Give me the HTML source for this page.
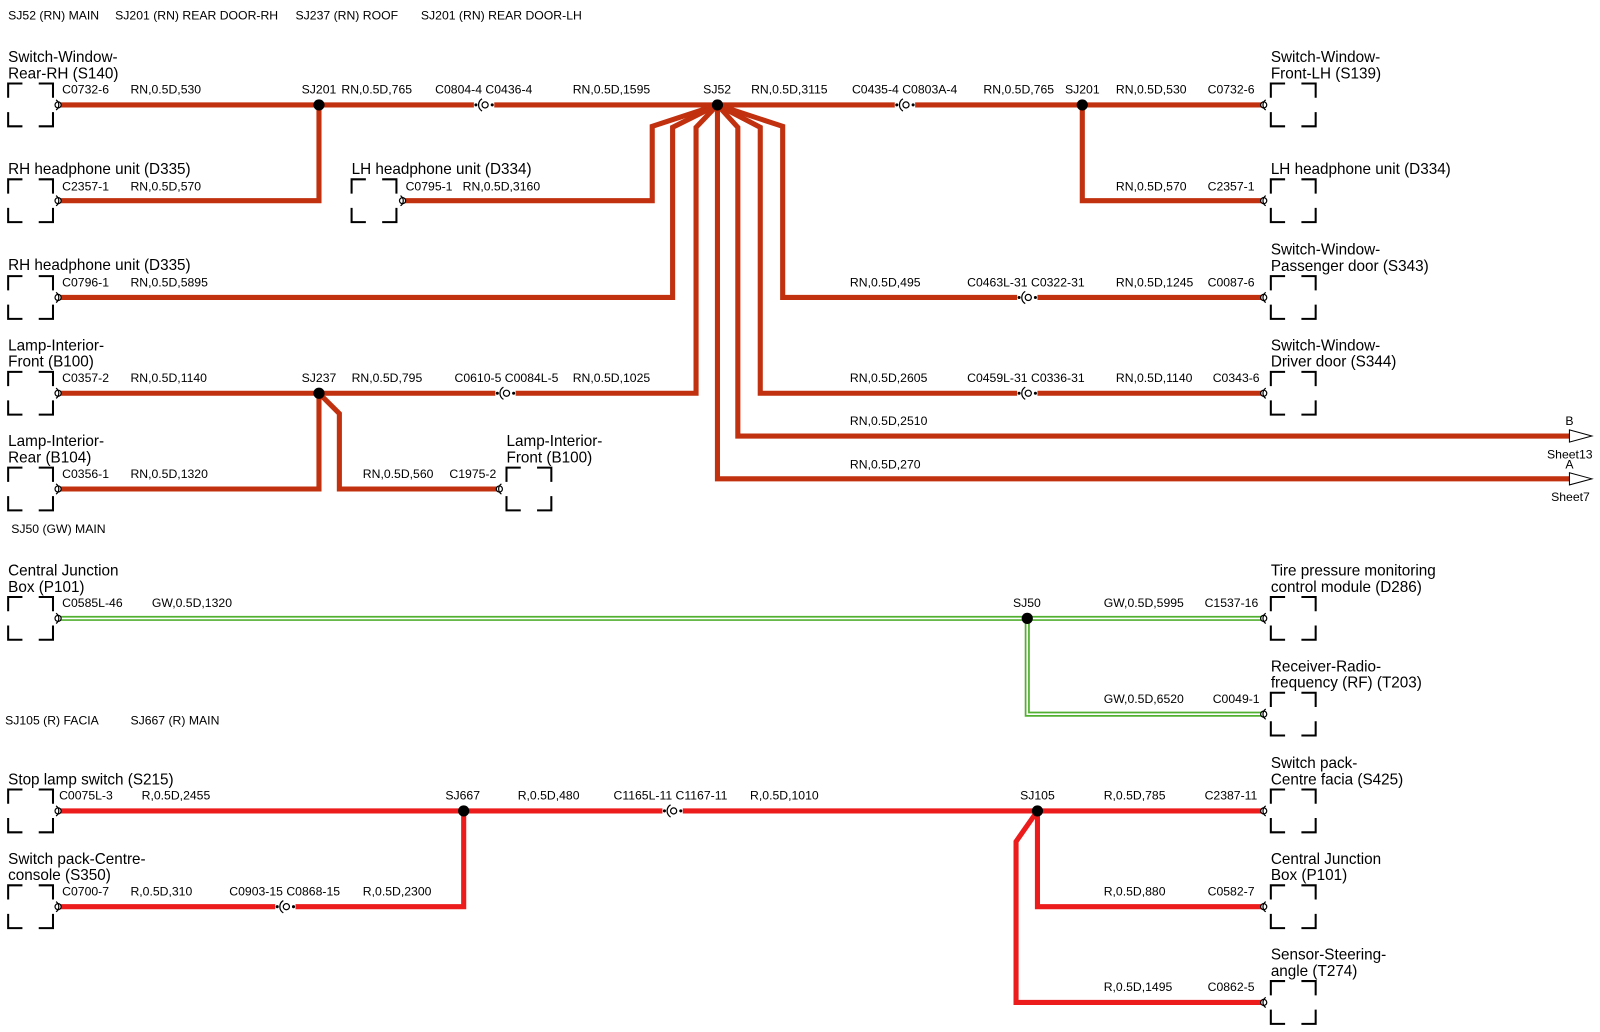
<!DOCTYPE html>
<html><head><meta charset="utf-8"><style>
html,body{margin:0;padding:0;background:#fff;width:1600px;height:1032px;overflow:hidden}
svg{display:block}
text{font-family:"Liberation Sans",sans-serif;fill:#000}
.w{font-size:12px}
.c{font-size:15px}
.rn{stroke:#c1300f;stroke-width:5;fill:none;stroke-linejoin:miter}
.r{stroke:#ec1c1c;stroke-width:5;fill:none}
.g{stroke:#52b030;stroke-width:5;fill:none}
.gi{stroke:#fff;stroke-width:1.6;fill:none}
.bx{stroke:#000;stroke-width:2;fill:none}
</style></head><body>
<svg width="1600" height="1032" viewBox="0 0 1570 1013" preserveAspectRatio="none" xmlns="http://www.w3.org/2000/svg">
<defs>
<g id="box"><path class="bx" d="M0,-7V-21H14M30,-21H44V-7M0,7V21H14M30,21H44V7"/></g>
<g id="endL"><circle cx="0" cy="0" r="3" fill="#fff" stroke="#000" stroke-width="1.2"/><path d="M-2,-5A6,6 0 0 1 -2,5" stroke="#000" stroke-width="1.2" fill="none"/></g>
<g id="endR"><circle cx="0" cy="0" r="3" fill="#fff" stroke="#000" stroke-width="1.2"/><path d="M2,-5A6,6 0 0 0 2,5" stroke="#000" stroke-width="1.2" fill="none"/></g>
<g id="inl"><rect x="-10" y="-4" width="20" height="8" fill="#fff"/><circle cx="-8" cy="0" r="1.5"/><circle cx="8" cy="0" r="1.5"/><circle cx="1" cy="0" r="3" fill="#fff" stroke="#000" stroke-width="1.2"/><path d="M-2,-6A7,7 0 0 0 -2,6" stroke="#000" stroke-width="1.2" fill="none"/></g>
</defs>

<text class="w" x="8" y="19">SJ52 (RN) MAIN</text>
<text class="w" x="113" y="19">SJ201 (RN) REAR DOOR-RH</text>
<text class="w" x="290" y="19">SJ237 (RN) ROOF</text>
<text class="w" x="413" y="19">SJ201 (RN) REAR DOOR-LH</text>

<path class="rn" d="M57,103H1240"/>
<path class="rn" d="M313,103V197H57"/>
<path class="rn" d="M1062,103V197H1240"/>
<path class="rn" d="M395,197H640V124L704,103"/>
<path class="rn" d="M57,292H660V125L704,103"/>
<path class="rn" d="M57,386H683V125L704,103"/>
<path class="rn" d="M704,103V470H1540"/>
<path class="rn" d="M704,103L724,125V428H1540"/>
<path class="rn" d="M704,103L746,125V386H1240"/>
<path class="rn" d="M704,103L768,124V292H1240"/>
<path class="rn" d="M57,480H313V386"/>
<path class="rn" d="M313,386L333,406V480H490"/>

<path class="g" d="M57,607H1240M1008,607V701H1240"/>
<path class="gi" d="M57,607H1240M1008,607V701H1240"/>

<path class="r" d="M57,796H1240"/>
<path class="r" d="M57,890H455V796"/>
<path class="r" d="M1018,796V890H1240"/>
<path class="r" d="M1018,796L997,826V984H1240"/>

<g fill="#000">
<circle cx="313" cy="103" r="5.5"/><circle cx="704" cy="103" r="5.5"/><circle cx="1062" cy="103" r="5.5"/>
<circle cx="313" cy="386" r="5.5"/><circle cx="1008" cy="607" r="5.5"/>
<circle cx="455" cy="796" r="5.5"/><circle cx="1018" cy="796" r="5.5"/>
</g>

<use href="#inl" x="475" y="103"/><use href="#inl" x="888" y="103"/>
<use href="#inl" x="1008" y="292"/><use href="#inl" x="1008" y="386"/>
<use href="#inl" x="496" y="386"/>
<use href="#inl" x="660" y="796"/><use href="#inl" x="280" y="890"/>

<use href="#box" x="8" y="103"/><use href="#endL" x="57" y="103"/>
<use href="#box" x="8" y="197"/><use href="#endL" x="57" y="197"/>
<use href="#box" x="345" y="197"/><use href="#endL" x="395" y="197"/>
<use href="#box" x="8" y="292"/><use href="#endL" x="57" y="292"/>
<use href="#box" x="8" y="386"/><use href="#endL" x="57" y="386"/>
<use href="#box" x="8" y="480"/><use href="#endL" x="57" y="480"/>
<use href="#box" x="497" y="480"/><use href="#endR" x="490" y="480"/>
<use href="#box" x="8" y="607"/><use href="#endL" x="57" y="607"/>
<use href="#box" x="8" y="796"/><use href="#endL" x="57" y="796"/>
<use href="#box" x="8" y="890"/><use href="#endL" x="57" y="890"/>
<use href="#box" x="1247" y="103"/><use href="#endR" x="1240" y="103"/>
<use href="#box" x="1247" y="197"/><use href="#endR" x="1240" y="197"/>
<use href="#box" x="1247" y="292"/><use href="#endR" x="1240" y="292"/>
<use href="#box" x="1247" y="386"/><use href="#endR" x="1240" y="386"/>
<use href="#box" x="1247" y="607"/><use href="#endR" x="1240" y="607"/>
<use href="#box" x="1247" y="701"/><use href="#endR" x="1240" y="701"/>
<use href="#box" x="1247" y="796"/><use href="#endR" x="1240" y="796"/>
<use href="#box" x="1247" y="890"/><use href="#endR" x="1240" y="890"/>
<use href="#box" x="1247" y="984"/><use href="#endR" x="1240" y="984"/>

<path d="M1540,422L1562,428L1540,434Z" fill="#fff" stroke="#000" stroke-width="1"/>
<path d="M1540,464L1562,470L1540,476Z" fill="#fff" stroke="#000" stroke-width="1"/>
<text class="w" x="1536" y="417">B</text><text class="w" x="1518" y="450">Sheet13</text>
<text class="w" x="1536" y="460">A</text><text class="w" x="1522" y="492">Sheet7</text>

<g class="c">
<text x="8" y="61">Switch-Window-</text><text x="8" y="77">Rear-RH (S140)</text>
<text x="8" y="171">RH headphone unit (D335)</text>
<text x="345" y="171">LH headphone unit (D334)</text>
<text x="8" y="265">RH headphone unit (D335)</text>
<text x="8" y="344">Lamp-Interior-</text><text x="8" y="360">Front (B100)</text>
<text x="8" y="438">Lamp-Interior-</text><text x="8" y="454">Rear (B104)</text>
<text x="497" y="438">Lamp-Interior-</text><text x="497" y="454">Front (B100)</text>
<text x="1247" y="61">Switch-Window-</text><text x="1247" y="77">Front-LH (S139)</text>
<text x="1247" y="171">LH headphone unit (D334)</text>
<text x="1247" y="250">Switch-Window-</text><text x="1247" y="266">Passenger door (S343)</text>
<text x="1247" y="344">Switch-Window-</text><text x="1247" y="360">Driver door (S344)</text>
<text x="8" y="565">Central Junction</text><text x="8" y="581">Box (P101)</text>
<text x="1247" y="565">Tire pressure monitoring</text><text x="1247" y="581">control module (D286)</text>
<text x="1247" y="659">Receiver-Radio-</text><text x="1247" y="675">frequency (RF) (T203)</text>
<text x="8" y="770">Stop lamp switch (S215)</text>
<text x="8" y="848">Switch pack-Centre-</text><text x="8" y="864">console (S350)</text>
<text x="1247" y="754">Switch pack-</text><text x="1247" y="770">Centre facia (S425)</text>
<text x="1247" y="848">Central Junction</text><text x="1247" y="864">Box (P101)</text>
<text x="1247" y="942">Sensor-Steering-</text><text x="1247" y="958">angle (T274)</text>
</g>

<g class="w">
<text x="61" y="92">C0732-6</text><text x="128" y="92">RN,0.5D,530</text>
<text x="296" y="92">SJ201</text><text x="335" y="92">RN,0.5D,765</text>
<text x="427" y="92">C0804-4 C0436-4</text><text x="562" y="92">RN,0.5D,1595</text>
<text x="690" y="92">SJ52</text><text x="737" y="92">RN,0.5D,3115</text>
<text x="836" y="92">C0435-4 C0803A-4</text><text x="965" y="92">RN,0.5D,765</text>
<text x="1045" y="92">SJ201</text><text x="1095" y="92">RN,0.5D,530</text><text x="1185" y="92">C0732-6</text>

<text x="61" y="187">C2357-1</text><text x="128" y="187">RN,0.5D,570</text>
<text x="398" y="187">C0795-1</text><text x="454" y="187">RN,0.5D,3160</text>
<text x="1095" y="187">RN,0.5D,570</text><text x="1185" y="187">C2357-1</text>

<text x="61" y="281">C0796-1</text><text x="128" y="281">RN,0.5D,5895</text>
<text x="834" y="281">RN,0.5D,495</text><text x="949" y="281">C0463L-31 C0322-31</text>
<text x="1095" y="281">RN,0.5D,1245</text><text x="1185" y="281">C0087-6</text>

<text x="61" y="375">C0357-2</text><text x="128" y="375">RN,0.5D,1140</text>
<text x="296" y="375">SJ237</text><text x="345" y="375">RN,0.5D,795</text>
<text x="446" y="375">C0610-5 C0084L-5</text><text x="562" y="375">RN,0.5D,1025</text>
<text x="834" y="375">RN,0.5D,2605</text><text x="949" y="375">C0459L-31 C0336-31</text>
<text x="1095" y="375">RN,0.5D,1140</text><text x="1190" y="375">C0343-6</text>

<text x="834" y="417">RN,0.5D,2510</text>
<text x="834" y="460">RN,0.5D,270</text>

<text x="61" y="469">C0356-1</text><text x="128" y="469">RN,0.5D,1320</text>
<text x="356" y="469">RN,0.5D,560</text><text x="441" y="469">C1975-2</text>

<text x="11" y="523">SJ50 (GW) MAIN</text>

<text x="61" y="596">C0585L-46</text><text x="149" y="596">GW,0.5D,1320</text>
<text x="994" y="596">SJ50</text><text x="1083" y="596">GW,0.5D,5995</text><text x="1182" y="596">C1537-16</text>
<text x="1083" y="690">GW,0.5D,6520</text><text x="1190" y="690">C0049-1</text>

<text x="5" y="711">SJ105 (R) FACIA</text><text x="128" y="711">SJ667 (R) MAIN</text>

<text x="58" y="785">C0075L-3</text><text x="139" y="785">R,0.5D,2455</text>
<text x="437" y="785">SJ667</text><text x="508" y="785">R,0.5D,480</text>
<text x="602" y="785">C1165L-11 C1167-11</text><text x="736" y="785">R,0.5D,1010</text>
<text x="1001" y="785">SJ105</text><text x="1083" y="785">R,0.5D,785</text><text x="1182" y="785">C2387-11</text>

<text x="61" y="879">C0700-7</text><text x="128" y="879">R,0.5D,310</text>
<text x="225" y="879">C0903-15 C0868-15</text><text x="356" y="879">R,0.5D,2300</text>
<text x="1083" y="879">R,0.5D,880</text><text x="1185" y="879">C0582-7</text>

<text x="1083" y="973">R,0.5D,1495</text><text x="1185" y="973">C0862-5</text>
</g>
</svg>
</body></html>
